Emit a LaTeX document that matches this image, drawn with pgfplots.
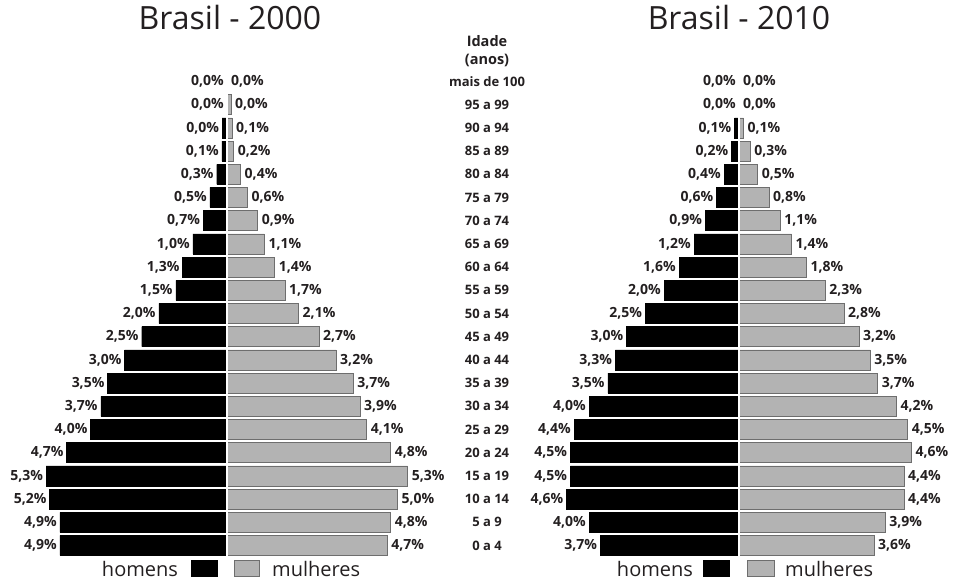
\documentclass[border=0pt]{standalone}
\usepackage{fontspec}
\setmainfont{Open Sans}
\usepackage{pgfplots}
\usepackage{pgfplotstable}
\pgfplotsset{compat=1.18}
\definecolor{fem}{RGB}{179,179,179}
\definecolor{femedge}{RGB}{110,110,110}
\definecolor{txt}{RGB}{35,31,32}
\newcommand\lab{\fontsize{14}{16}\selectfont\bfseries}

% y: 0 = "0 a 4" ... 20 = "mais de 100"; hb/mb = bar length, hl/ml = printed value
\pgfplotstableread{
y hb hl mb ml
0 4.9 4.9 4.7 4.7
1 4.9 4.9 4.8 4.8
2 5.2 5.2 5.0 5.0
3 5.3 5.3 5.3 5.3
4 4.7 4.7 4.8 4.8
5 4.0 4.0 4.1 4.1
6 3.7 3.7 3.9 3.9
7 3.5 3.5 3.7 3.7
8 3.0 3.0 3.2 3.2
9 2.5 2.5 2.7 2.7
10 2.0 2.0 2.1 2.1
11 1.5 1.5 1.7 1.7
12 1.3 1.3 1.4 1.4
13 1.0 1.0 1.1 1.1
14 0.7 0.7 0.9 0.9
15 0.5 0.5 0.6 0.6
16 0.3 0.3 0.4 0.4
17 0.15 0.1 0.2 0.2
18 0.14 0.0 0.15 0.1
19 0 0.0 0.12 0.0
20 0 0.0 0 0.0
}\dataA

\pgfplotstableread{
y hb hl mb ml
0 3.7 3.7 3.6 3.6
1 4.0 4.0 3.9 3.9
2 4.6 4.6 4.4 4.4
3 4.5 4.5 4.4 4.4
4 4.5 4.5 4.6 4.6
5 4.4 4.4 4.5 4.5
6 4.0 4.0 4.2 4.2
7 3.5 3.5 3.7 3.7
8 3.3 3.3 3.5 3.5
9 3.0 3.0 3.2 3.2
10 2.5 2.5 2.8 2.8
11 2.0 2.0 2.3 2.3
12 1.6 1.6 1.8 1.8
13 1.2 1.2 1.4 1.4
14 0.9 0.9 1.1 1.1
15 0.6 0.6 0.8 0.8
16 0.4 0.4 0.5 0.5
17 0.2 0.2 0.3 0.3
18 0.12 0.1 0.12 0.1
19 0 0.0 0 0.0
20 0 0.0 0 0.0
}\dataB

\pgfplotsset{
  pyr/.style={
    anchor=south west, scale only axis, height=487.2pt,
    ymin=-0.5, ymax=20.5,
    xbar, bar width=20pt, bar shift=0pt,
    axis line style={draw=none}, xtick=\empty,
    major tick length=0pt, tick style={draw=none},
    clip=false,
    point meta=explicit,
    nodes near coords={\pgfmathprintnumber{\pgfplotspointmeta}\%},
    every node near coord/.append style={font=\lab, text=txt},
    /pgf/number format/fixed, /pgf/number format/fixed zerofill,
    /pgf/number format/precision=1, /pgf/number format/use comma,
    /pgf/number format/assume math mode=true,
  },
  men/.style={fill=black, draw=black, line width=0.4pt,
    every node near coord/.append style={anchor=east, inner sep=3pt}},
  women/.style={fill=fem, draw=femedge, line width=0.7pt,
    every node near coord/.append style={anchor=west, inner sep=3.8pt}},
}

\begin{document}
\begin{tikzpicture}
\path[use as bounding box] (0,0) rectangle (957pt,580pt);

% ---------- 2000 ----------
\begin{axis}[pyr, at={(0.2pt,22.9pt)}, width=453.5pt,
  xmin=-6.65, xmax=6.65, ytick=\empty]
\addplot[men] table[x expr=-\thisrow{hb}, y=y, meta=hl]{\dataA};
\addplot[women] table[x=mb, y=y, meta=ml]{\dataA};
\draw[white, line width=2.6pt] (axis cs:0,-0.55) -- (axis cs:0,20.55);
\end{axis}

% ---------- 2010 ----------
\begin{axis}[pyr, at={(514pt,22.9pt)}, width=450pt,
  xmin=-6, xmax=6,
  ytick={0,...,20},
  yticklabels={0 a 4,5 a 9,10 a 14,15 a 19,20 a 24,25 a 29,30 a 34,35 a 39,40 a 44,45 a 49,50 a 54,55 a 59,60 a 64,65 a 69,70 a 74,75 a 79,80 a 84,85 a 89,90 a 94,95 a 99,mais de 100},
  yticklabel style={font=\fontsize{13}{15}\selectfont\bfseries, text=txt, anchor=center, xshift=-27pt}]
\addplot[men] table[x expr=-\thisrow{hb}, y=y, meta=hl]{\dataB};
\addplot[women] table[x=mb, y=y, meta=ml]{\dataB};
\draw[white, line width=2.6pt] (axis cs:0,-0.55) -- (axis cs:0,20.55);
\end{axis}

% titles and header
\node[anchor=base, text=txt, font=\fontsize{32}{36}\selectfont] at (230pt,550pt) {Brasil - 2000};
\node[anchor=base, text=txt, font=\fontsize{32}{36}\selectfont] at (739pt,550pt) {Brasil - 2010};
\node[anchor=base, text=txt, font=\fontsize{14.5}{17}\selectfont\bfseries] at (487pt,533pt) {Idade};
\node[anchor=base, text=txt, font=\fontsize{14.5}{17}\selectfont\bfseries] at (487pt,515pt) {(anos)};

% legends
\begin{scope}[every node/.style={text=txt, font=\fontsize{20}{22}\selectfont}]
\node[anchor=base east] at (181.5pt,3pt) {homens};
\fill[black] (191pt,3pt) rectangle (218pt,20pt);
\filldraw[fill=fem, draw=femedge, line width=0.7pt] (234.5pt,3.5pt) rectangle (259.5pt,19.5pt);
\node[anchor=base west] at (268.7pt,3pt) {mulheres};

\node[anchor=base east] at (696.5pt,3pt) {homens};
\fill[black] (703pt,3pt) rectangle (730pt,20pt);
\filldraw[fill=fem, draw=femedge, line width=0.7pt] (747.5pt,3.5pt) rectangle (774.5pt,19.5pt);
\node[anchor=base west] at (781.7pt,3pt) {mulheres};
\end{scope}
\end{tikzpicture}
\end{document}
